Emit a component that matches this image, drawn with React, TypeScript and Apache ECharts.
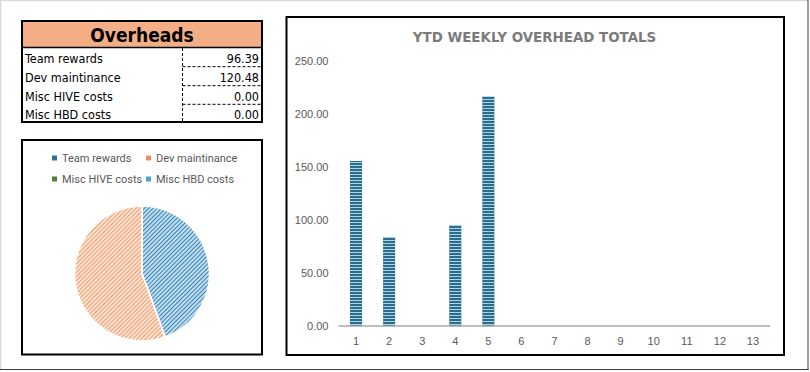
import React, { useEffect, useRef } from "react";
import * as echarts from "echarts";

const tableTitle = "Overheads";
const tableLabels = ["Team rewards", "Dev maintinance", "Misc HIVE costs", "Misc HBD costs"];
const tableValues = [96.39, 120.48, 0, 0];

const chartTitle = "YTD WEEKLY OVERHEAD TOTALS";
const weeks = ["1", "2", "3", "4", "5", "6", "7", "8", "9", "10", "11", "12", "13"];
const weeklyTotals = [155.5, 83.6, 0, 95.0, 216.2, 0, 0, 0, 0, 0, 0, 0, 0];
const yMin = 0;
const yMax = 250;
const yStep = 50;

const pieBase = ["#BFDDF0", "#FCE3D3", "#C5E0B4", "#BDE3F5"];
const pieStripe = ["#3B84B2", "#F09B69", "#548235", "#4AA8D8"];
const legendColors = ["#2E6F96", "#ED8D5A", "#4F7F3A", "#45A6D6"];

const TFONT = "'DejaVu Sans Condensed', 'Roboto', sans-serif";

export default function App() {
  const ref = useRef<HTMLDivElement>(null);
  useEffect(() => {
    if (!ref.current) return;
    const chart = echarts.init(ref.current, undefined, { renderer: "svg" });

    const rowTops = [47.5, 66.7, 85.7, 104.3];
    const rowBottoms = [66.7, 85.7, 104.3, 122];
    const tableGraphics: any[] = [];
    tableLabels.forEach((lab, i) => {
      const cy = (rowTops[i] + rowBottoms[i]) / 2 + 1;
      tableGraphics.push({
        type: "text",
        x: 25,
        y: cy,
        style: { text: lab, fontSize: 12.5, fontFamily: TFONT, fill: "#000", align: "left", verticalAlign: "middle" },
      });
      tableGraphics.push({
        type: "text",
        x: 259,
        y: cy,
        style: { text: tableValues[i].toFixed(2), fontSize: 12.5, fontFamily: TFONT, fill: "#000", align: "right", verticalAlign: "middle" },
      });
      if (i < tableLabels.length - 1) {
        tableGraphics.push({
          type: "line",
          shape: { x1: 182.5, y1: rowBottoms[i], x2: 262, y2: rowBottoms[i] },
          style: { stroke: "#000", lineWidth: 1, lineDash: [3, 2] },
        });
      }
    });

    const legendDefs = [
      { name: tableLabels[0], left: 52, top: 151 },
      { name: tableLabels[1], left: 146, top: 151 },
      { name: tableLabels[2], left: 52, top: 172 },
      { name: tableLabels[3], left: 146, top: 172 },
    ];

    chart.setOption({
      animation: false,
      backgroundColor: "#fff",
      graphic: [
        // outer frame
        { type: "line", shape: { x1: 0.5, y1: 0, x2: 0.5, y2: 370 }, style: { stroke: "#D9D9D9", lineWidth: 1.5 } },
        { type: "line", shape: { x1: 0, y1: 0.5, x2: 808, y2: 0.5 }, style: { stroke: "#D9D9D9", lineWidth: 1.5 } },
        { type: "line", shape: { x1: 808, y1: 0, x2: 808, y2: 370 }, style: { stroke: "#3A3A3A", lineWidth: 1 } },
        { type: "line", shape: { x1: 0, y1: 369.5, x2: 808.5, y2: 369.5 }, style: { stroke: "#3A3A3A", lineWidth: 1 } },
        // table
        { type: "rect", shape: { x: 22, y: 21, width: 240, height: 101 }, style: { fill: "#fff", stroke: "none" } },
        { type: "rect", shape: { x: 22, y: 21, width: 240, height: 26.5 }, style: { fill: "#F4AE85", stroke: "none" } },
        {
          type: "text",
          x: 142,
          y: 34.5,
          style: { text: tableTitle, fontSize: 19, fontWeight: "bold", fontFamily: TFONT, fill: "#000", align: "center", verticalAlign: "middle" },
        },
        { type: "line", shape: { x1: 22, y1: 47.5, x2: 262, y2: 47.5 }, style: { stroke: "#000", lineWidth: 1.5 } },
        { type: "line", shape: { x1: 182.5, y1: 48, x2: 182.5, y2: 122 }, style: { stroke: "#000", lineWidth: 1, lineDash: [3, 2] } },
        ...tableGraphics,
        { type: "rect", shape: { x: 22, y: 21, width: 240, height: 101 }, style: { fill: "none", stroke: "#000", lineWidth: 2 } },
        // pie box
        { type: "rect", shape: { x: 22, y: 140, width: 240, height: 214.5 }, style: { fill: "none", stroke: "#000", lineWidth: 2 } },
        // bar box
        { type: "rect", shape: { x: 286.5, y: 17, width: 497.5, height: 338 }, style: { fill: "none", stroke: "#000", lineWidth: 2 } },
        {
          type: "text",
          x: 534.5,
          y: 37.5,
          style: { text: chartTitle, fontSize: 13.4, fontWeight: "bold", fontFamily: "'DejaVu Sans', sans-serif", fill: "#7B7B7B", align: "center", verticalAlign: "middle" },
        },
      ],
      legend: legendDefs.map((d, i) => ({
        data: [{ name: d.name, itemStyle: { color: legendColors[i], decal: "none", borderWidth: 0 } }],
        left: d.left,
        top: d.top,
        orient: "horizontal",
        icon: "rect",
        itemWidth: 5,
        itemHeight: 5,
        padding: 0,
        selectedMode: false,
        textStyle: { color: "#595959", fontSize: 11, fontFamily: "Roboto, sans-serif", lineHeight: 14 },
      })),
      grid: {
        left: 339.5,
        right: 810 - 769.5,
        top: 61,
        bottom: 372 - 325.5,
        containLabel: false,
        outerBoundsMode: "none",
      },
      xAxis: {
        type: "category",
        data: weeks,
        boundaryGap: true,
        axisLine: { show: true, lineStyle: { color: "#BFBFBF", width: 2 } },
        axisTick: { show: false },
        axisLabel: { color: "#595959", fontSize: 11, fontFamily: "'Liberation Sans', Arial, sans-serif", margin: 10 },
        splitLine: { show: false },
      },
      yAxis: {
        type: "value",
        min: yMin,
        max: yMax,
        interval: yStep,
        axisLine: { show: false },
        axisTick: { show: false },
        splitLine: { show: false },
        axisLabel: {
          color: "#595959",
          fontSize: 11,
          fontFamily: "'Liberation Sans', Arial, sans-serif",
          margin: 11,
          formatter: (v: number) => v.toFixed(2),
        },
      },
      series: [
        {
          type: "bar",
          data: weeklyTotals,
          barWidth: 12,
          itemStyle: {
            color: "#2C6B8A",
            decal: {
              symbol: "rect",
              symbolSize: 1,
              dashArrayX: [1, 0],
              dashArrayY: [1, 2],
              rotation: 0,
              color: "#A9D4EA",
            },
          },
        },
        {
          type: "pie",
          center: [142, 273.5],
          radius: 67.5,
          startAngle: 90,
          clockwise: true,
          label: { show: false },
          labelLine: { show: false },
          silent: true,
          data: tableLabels.map((name, i) => ({
            name,
            value: tableValues[i],
            itemStyle: {
              color: pieBase[i],
              borderColor: "#fff",
              borderWidth: tableValues[i] > 0 ? 1.5 : 0,
              decal: {
                symbol: "rect",
                symbolSize: 1,
                dashArrayX: [1, 0],
                dashArrayY: [1, 2],
                rotation: -Math.PI / 4,
                color: pieStripe[i],
              },
            },
          })),
        },
      ],
    } as any);
    return () => chart.dispose();
  }, []);
  return (
    <div
      ref={ref}
      style={{ position: "fixed", left: 0, top: 0, width: 810, height: 372 }}
    />
  );
}
